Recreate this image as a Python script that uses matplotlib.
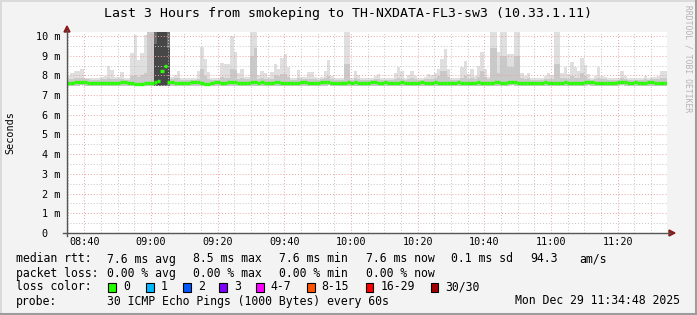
import matplotlib
matplotlib.use("Agg")
import numpy as np
import matplotlib.pyplot as plt
from matplotlib.patches import Rectangle, Polygon
from matplotlib.lines import Line2D
from datetime import datetime, timedelta

# ---- data (one value per minute, 08:34:48 .. 11:34:48) ----
start = datetime(2025, 12, 29, 8, 34, 48)
end = datetime(2025, 12, 29, 11, 34, 48)

rtt_max = [
    7.95, 8.10, 8.20, 8.20, 8.33, 7.85, 7.85, 7.85, 7.85, 7.85, 7.90, 7.95, 8.45, 8.25, 7.90, 7.90, 8.15, 7.85, 7.85, 9.14,
    10.05, 8.76, 9.14, 10.05, 10.30, 10.30, 10.30, 10.30, 10.30, 10.30, 10.30, 7.90, 8.00, 8.24, 7.85, 7.85, 7.85, 7.85, 7.85, 8.20,
    9.45, 8.85, 8.15, 7.85, 7.85, 7.85, 8.62, 8.60, 8.60, 10.00, 9.19, 8.10, 8.33, 7.90, 7.90, 10.30, 10.30, 8.00, 8.20, 8.10,
    7.90, 8.15, 8.59, 8.30, 8.90, 9.07, 8.41, 7.85, 7.85, 8.28, 7.90, 7.90, 8.15, 8.15, 7.90, 7.85, 7.90, 8.20, 8.80, 7.95,
    7.85, 7.85, 7.85, 10.30, 10.30, 7.85, 8.20, 8.00, 7.85, 7.85, 7.85, 7.85, 7.95, 8.05, 7.85, 7.85, 7.85, 7.85, 8.10, 8.41,
    8.20, 7.85, 8.00, 8.20, 7.95, 7.85, 7.85, 7.90, 8.05, 8.00, 8.10, 8.30, 8.85, 9.36, 8.30, 7.85, 7.85, 7.85, 8.41, 8.73,
    8.05, 8.30, 7.95, 8.45, 9.20, 8.30, 7.90, 10.30, 10.30, 9.20, 10.30, 10.30, 9.10, 9.10, 10.30, 10.30, 8.14, 7.95, 8.14, 7.85,
    7.85, 7.85, 7.85, 7.95, 8.10, 8.00, 10.30, 10.30, 8.14, 8.40, 8.05, 8.70, 8.40, 8.20, 8.90, 8.55, 8.05, 7.85, 7.95, 8.40,
    7.95, 7.90, 7.85, 7.85, 7.85, 7.85, 8.20, 7.95, 7.85, 7.85, 7.85, 7.85, 7.85, 7.95, 7.85, 7.90, 7.90, 7.95, 8.20, 8.20,
]

rtt_upper = [
    7.80, 7.82, 7.85, 7.85, 7.88, 7.80, 7.80, 7.78, 7.78, 7.78, 7.80, 7.80, 7.85, 7.82, 7.80, 7.80, 7.82, 7.78, 7.78, 7.95,
    8.00, 7.90, 8.00, 8.10, 10.30, 10.30, 10.30, 10.30, 10.30, 10.30, 10.30, 7.80, 7.85, 7.85, 7.78, 7.78, 7.78, 7.78, 7.78, 7.82,
    8.30, 7.95, 7.82, 7.78, 7.78, 7.78, 7.90, 7.88, 7.88, 8.30, 8.25, 7.82, 7.85, 7.80, 7.80, 9.00, 9.40, 7.82, 7.85, 7.82,
    7.80, 7.82, 8.00, 7.95, 8.05, 8.05, 7.90, 7.78, 7.78, 7.85, 7.80, 7.80, 7.82, 7.82, 7.80, 7.78, 7.80, 7.85, 7.95, 7.80,
    7.78, 7.78, 7.78, 8.60, 8.60, 7.78, 7.85, 7.80, 7.78, 7.78, 7.78, 7.78, 7.80, 7.82, 7.78, 7.78, 7.78, 7.78, 7.82, 7.88,
    7.82, 7.78, 7.80, 7.85, 7.80, 7.78, 7.78, 7.80, 7.82, 7.80, 7.85, 7.95, 8.20, 8.20, 7.90, 7.78, 7.78, 7.78, 7.88, 7.95,
    7.82, 7.85, 7.80, 7.90, 8.20, 7.90, 7.80, 9.40, 9.40, 8.10, 9.00, 9.00, 8.40, 8.40, 9.00, 9.00, 7.85, 7.80, 7.85, 7.78,
    7.78, 7.78, 7.78, 7.80, 7.82, 7.80, 8.60, 8.60, 7.85, 7.88, 7.82, 7.95, 7.88, 7.85, 8.10, 7.95, 7.82, 7.78, 7.80, 7.88,
    7.80, 7.80, 7.78, 7.78, 7.78, 7.78, 7.85, 7.80, 7.78, 7.78, 7.78, 7.78, 7.78, 7.80, 7.78, 7.80, 7.80, 7.80, 7.85, 7.85,
]

rtt_min = [
    7.47, 7.47, 7.48, 7.48, 7.50, 7.48, 7.47, 7.46, 7.46, 7.45, 7.45, 7.46, 7.47, 7.47, 7.46, 7.46, 7.48, 7.47, 7.45, 7.45,
    7.44, 7.44, 7.44, 7.45, 7.45, 7.46, 7.44, 7.44, 7.44, 7.44, 7.46, 7.47, 7.47, 7.47, 7.46, 7.45, 7.45, 7.47, 7.48, 7.48,
    7.46, 7.44, 7.44, 7.45, 7.47, 7.48, 7.47, 7.47, 7.48, 7.48, 7.48, 7.47, 7.46, 7.45, 7.46, 7.47, 7.48, 7.47, 7.48, 7.45,
    7.45, 7.46, 7.48, 7.48, 7.47, 7.47, 7.45, 7.45, 7.46, 7.47, 7.48, 7.48, 7.47, 7.47, 7.45, 7.46, 7.48, 7.48, 7.49, 7.47,
    7.47, 7.47, 7.45, 7.46, 7.48, 7.47, 7.48, 7.46, 7.45, 7.45, 7.46, 7.48, 7.48, 7.47, 7.46, 7.48, 7.46, 7.45, 7.45, 7.46,
    7.48, 7.46, 7.46, 7.45, 7.45, 7.46, 7.48, 7.46, 7.45, 7.46, 7.48, 7.46, 7.46, 7.44, 7.45, 7.46, 7.46, 7.48, 7.46, 7.45,
    7.45, 7.46, 7.46, 7.48, 7.46, 7.46, 7.45, 7.46, 7.48, 7.48, 7.46, 7.45, 7.48, 7.50, 7.48, 7.46, 7.45, 7.45, 7.46, 7.46,
    7.45, 7.46, 7.46, 7.48, 7.46, 7.45, 7.45, 7.46, 7.46, 7.48, 7.46, 7.46, 7.45, 7.45, 7.46, 7.48, 7.50, 7.48, 7.46, 7.45,
    7.45, 7.46, 7.46, 7.45, 7.46, 7.48, 7.50, 7.48, 7.46, 7.46, 7.48, 7.46, 7.45, 7.46, 7.48, 7.48, 7.46, 7.46, 7.45, 7.45,
]

rtt_median = [
    7.62, 7.62, 7.64, 7.64, 7.66, 7.66, 7.62, 7.62, 7.62, 7.60, 7.60, 7.60, 7.62, 7.62, 7.62, 7.62, 7.66, 7.64, 7.60, 7.60,
    7.58, 7.58, 7.58, 7.60, 7.60, 7.62, 7.64, 7.72, 8.20, 8.45, 7.66, 7.64, 7.62, 7.62, 7.62, 7.60, 7.60, 7.64, 7.64, 7.64,
    7.62, 7.58, 7.58, 7.60, 7.64, 7.64, 7.62, 7.62, 7.64, 7.64, 7.64, 7.62, 7.62, 7.60, 7.62, 7.64, 7.64, 7.62, 7.64, 7.60,
    7.60, 7.62, 7.64, 7.64, 7.62, 7.62, 7.60, 7.60, 7.62, 7.62, 7.64, 7.64, 7.62, 7.62, 7.60, 7.62, 7.64, 7.64, 7.66, 7.62,
    7.62, 7.62, 7.60, 7.62, 7.64, 7.62, 7.64, 7.62, 7.60, 7.60, 7.62, 7.64, 7.64, 7.62, 7.62, 7.64, 7.62, 7.60, 7.60, 7.62,
    7.64, 7.62, 7.62, 7.60, 7.60, 7.62, 7.64, 7.62, 7.60, 7.62, 7.64, 7.62, 7.62, 7.60, 7.60, 7.62, 7.62, 7.64, 7.62, 7.60,
    7.60, 7.62, 7.62, 7.64, 7.62, 7.62, 7.60, 7.62, 7.64, 7.64, 7.62, 7.60, 7.64, 7.66, 7.64, 7.62, 7.60, 7.60, 7.62, 7.62,
    7.60, 7.62, 7.62, 7.64, 7.62, 7.60, 7.60, 7.62, 7.62, 7.64, 7.62, 7.62, 7.60, 7.60, 7.62, 7.64, 7.66, 7.64, 7.62, 7.60,
    7.60, 7.62, 7.62, 7.60, 7.62, 7.64, 7.66, 7.64, 7.62, 7.62, 7.64, 7.62, 7.60, 7.62, 7.64, 7.64, 7.62, 7.62, 7.60, 7.60,
]

# the dark burst just after 09:00 (wide spread of all pings)
burst_minutes = [26, 27, 28, 29, 30]
burst_low = [7.45, 7.44, 7.44, 7.44, 7.46]
burst_core_top = [9.60, 10.30, 10.30, 10.30, 9.40]
burst_core_low = [7.55, 7.52, 7.52, 7.52, 7.55]

y_ticks = [0, 1, 2, 3, 4, 5, 6, 7, 8, 9, 10]
y_tick_labels = ["0  ", "1 m", "2 m", "3 m", "4 m", "5 m", "6 m", "7 m", "8 m", "9 m", "10 m"]
x_tick_times = ["08:40", "09:00", "09:20", "09:40", "10:00", "10:20", "10:40", "11:00", "11:20"]

stats_rtt = ["7.6 ms avg", "8.5 ms max", "7.6 ms min", "7.6 ms now", "0.1 ms sd", "94.3", "am/s"]
stats_loss = ["0.00 % avg", "0.00 % max", "0.00 % min", "0.00 % now"]
loss_labels = ["0", "1", "2", "3", "4-7", "8-15", "16-29", "30/30"]
loss_colors = ["#26ff00", "#00b8ff", "#0059ff", "#7f00ff", "#ff00ff", "#ff5500", "#ff0000", "#a00000"]

# ---- layout ----
W, H = 697, 315
MONO = "DejaVu Sans Mono"


def fx(px):
    return px / W


def fy(py):
    return 1 - py / H


fig = plt.figure(figsize=(W / 100, H / 100), dpi=100, facecolor="#f3f3f3")

# frame
fig.add_artist(Line2D([fx(0.5), fx(0.5)], [fy(0), fy(H)], color="#dadada", lw=1.4))
fig.add_artist(Line2D([fx(0), fx(W)], [fy(0.5), fy(0.5)], color="#dadada", lw=1.4))
fig.add_artist(Line2D([fx(W - 1.5), fx(W - 1.5)], [fy(0), fy(H)], color="#9c9c9c", lw=2.2))
fig.add_artist(Line2D([fx(0), fx(W)], [fy(H - 1.5), fy(H - 1.5)], color="#9c9c9c", lw=2.2))

ax = fig.add_axes([fx(67), fy(233), 600 / W, 201 / H])
ax.set_facecolor("white")
ax.set_xlim(0, 180)
ax.set_ylim(0, 10.2)
for s in ax.spines.values():
    s.set_visible(False)

edges = np.arange(len(rtt_max) + 1)
ax.stairs(rtt_max, edges, baseline=rtt_min, fill=True, color="#dfdfdf", lw=0, zorder=1)
ax.stairs(rtt_upper, edges, baseline=rtt_min, fill=True, color="#c9c9c9", lw=0, zorder=1.2)
ax.bar(burst_minutes, np.array(rtt_max)[burst_minutes] - np.array(burst_low), bottom=burst_low,
       width=1.0, align="edge", color="#6c6c6c", lw=0, zorder=1.4)
ax.bar(burst_minutes, np.array(burst_core_top) - np.array(burst_core_low), bottom=burst_core_low,
       width=1.0, align="edge", color="#474747", lw=0, zorder=1.5)

# grid over the smoke
minor_x = [m for m in np.arange(0.2, 180, 5)]
major_x = []
for lab in x_tick_times:
    hh, mm = map(int, lab.split(":"))
    t = datetime(2025, 12, 29, hh, mm) - start
    major_x.append(t.total_seconds() / 60)
for x in minor_x:
    if min(abs(x - mx) for mx in major_x) > 0.5:
        ax.axvline(x, color="#c4c4c4", lw=0.7, ls=(0, (1, 2)), zorder=2)
for y in np.arange(0.5, 10.2, 1.0):
    ax.axhline(y, color="#c4c4c4", lw=0.7, ls=(0, (1, 2)), zorder=2)
for x in major_x:
    ax.axvline(x, color="#eaa3a3", lw=0.7, ls=(0, (1, 2)), zorder=2.1)
for y in y_ticks[1:]:
    ax.axhline(y, color="#eaa3a3", lw=0.7, ls=(0, (1, 2)), zorder=2.1)

# median line (loss 0 -> green)
ax.hlines(rtt_median, edges[:-1], edges[1:], color=loss_colors[0], lw=2.4, zorder=3, capstyle="butt")

ax.set_yticks(y_ticks)
ax.set_yticklabels(y_tick_labels, family=MONO, fontsize=7.3)
ax.set_xticks(major_x)
ax.set_xticklabels(x_tick_times, family=MONO, fontsize=7.3)
ax.tick_params(length=0)
ax.tick_params(axis="y", pad=5)
ax.tick_params(axis="x", pad=3)
for t in ax.get_yticklabels():
    t.set_horizontalalignment("right")

# axes lines and arrows
fig.add_artist(Line2D([fx(67), fx(67)], [fy(236), fy(30)], color="#555555", lw=1.0))
fig.add_artist(Line2D([fx(63), fx(670)], [fy(233), fy(233)], color="#555555", lw=1.0))
fig.add_artist(Polygon([[fx(64), fy(32)], [fx(70), fy(32)], [fx(67), fy(26)]], closed=True,
                       color="#8b1a1a", transform=fig.transFigure))
fig.add_artist(Polygon([[fx(669), fy(230)], [fx(669), fy(236)], [fx(675), fy(233)]], closed=True,
                       color="#8b1a1a", transform=fig.transFigure))

# texts
fig.text(fx(347.5), fy(13), "Last 3 Hours from smokeping to TH-NXDATA-FL3-sw3 (10.33.1.11)",
         family=MONO, fontsize=9.5, ha="center", va="center")
fig.text(fx(10), fy(133), "Seconds", family=MONO, fontsize=7.3, rotation=90, ha="center", va="center")
fig.text(fx(688), fy(5), "RRDTOOL / TOBI OETIKER", family=MONO, fontsize=5.8, rotation=-90,
         ha="center", va="top", color="#b4b4b4")

col_x = [107.3, 193.3, 279.3, 366, 451, 530, 579.3]
row_y = [259, 273.3, 286.7, 301]
fs = 8.3
fig.text(fx(16), fy(row_y[0]), "median rtt:", family=MONO, fontsize=fs, va="center")
for x, s in zip(col_x, stats_rtt):
    fig.text(fx(x), fy(row_y[0]), s, family=MONO, fontsize=fs, va="center")
fig.text(fx(16), fy(row_y[1]), "packet loss:", family=MONO, fontsize=fs, va="center")
for x, s in zip(col_x, stats_loss):
    fig.text(fx(x), fy(row_y[1]), s, family=MONO, fontsize=fs, va="center")
fig.text(fx(16), fy(row_y[2]), "loss color:", family=MONO, fontsize=fs, va="center")
box_x = [108.3, 146, 183, 219.3, 256, 307, 365.7, 430.7]
for bx, lab, c in zip(box_x, loss_labels, loss_colors):
    fig.add_artist(Rectangle((fx(bx), fy(291.5)), 7.5 / W, 8.5 / H, facecolor=c, edgecolor="black",
                             lw=0.8, transform=fig.transFigure))
    fig.text(fx(bx + 14.7), fy(row_y[2]), lab, family=MONO, fontsize=fs, va="center")
fig.text(fx(16), fy(row_y[3]), "probe:", family=MONO, fontsize=fs, va="center")
fig.text(fx(107.3), fy(row_y[3]), "30 ICMP Echo Pings (1000 Bytes) every 60s", family=MONO, fontsize=fs, va="center")
fig.text(fx(680), fy(row_y[3]), end.strftime("%a %b %d %H:%M:%S %Y"), family=MONO, fontsize=fs,
         ha="right", va="center")

fig.savefig("out.png", dpi=100, facecolor=fig.get_facecolor())
